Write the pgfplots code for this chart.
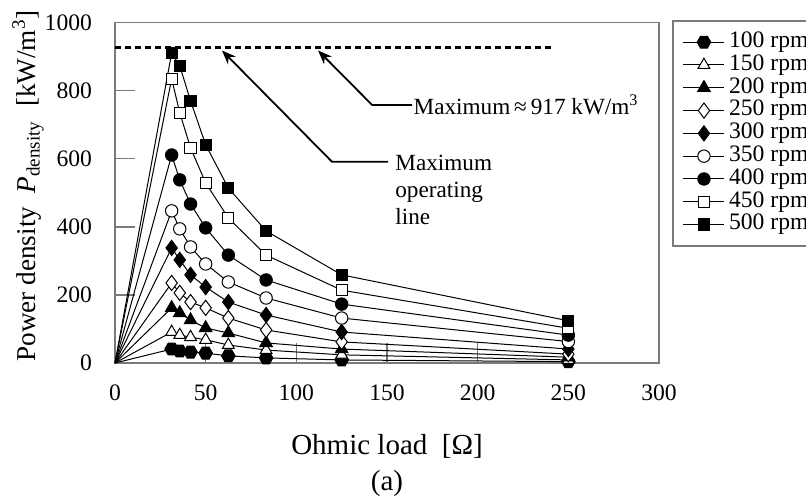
\documentclass[border=0pt]{standalone}
\usepackage{fontspec}
\setmainfont{Liberation Serif}
\usepackage{pgfplots}
\pgfplotsset{compat=1.18}
\usetikzlibrary{arrows.meta}
\pgfdeclareplotmark{hexagon}{%
  \pgfpathmoveto{\pgfqpointpolar{0}{\pgfplotmarksize}}%
  \pgfpathlineto{\pgfqpointpolar{60}{\pgfplotmarksize}}%
  \pgfpathlineto{\pgfqpointpolar{120}{\pgfplotmarksize}}%
  \pgfpathlineto{\pgfqpointpolar{180}{\pgfplotmarksize}}%
  \pgfpathlineto{\pgfqpointpolar{240}{\pgfplotmarksize}}%
  \pgfpathlineto{\pgfqpointpolar{300}{\pgfplotmarksize}}%
  \pgfpathclose
  \pgfusepathqfillstroke}
\definecolor{axgrey}{HTML}{7A7A7A}
\begin{document}
\begin{tikzpicture}
\begin{axis}[
  at={(0pt,0pt)}, anchor=south west,
  scale only axis, width=272pt, height=170.2pt,
  xmin=0, xmax=300, ymin=0, ymax=1000,
  xtick={0,50,...,300}, ytick={0,200,...,1000},
  tick pos=left, tick align=inside,
  major tick length=10pt,
  axis line style={axgrey, line width=0.9pt},
  every tick/.style={axgrey, line width=0.7pt},
  /pgf/number format/assume math mode=true,
  /pgf/number format/set thousands separator={},
  ticklabel style={font=\fontsize{11.8}{13}\selectfont},
  yticklabel style={xshift=-8pt},
  xticklabel style={yshift=-7.5pt},
  xlabel={Ohmic load\ \ [Ω]},
  ylabel={Power density\ \ \textit{P}\textsubscript{density}\ \ [kW/m\textsuperscript{3}]},
  xlabel style={font=\fontsize{14.5}{16}\selectfont, at={(axis description cs:0.5,-0.245)}, anchor=center},
  ylabel style={font=\fontsize{13.6}{16}\selectfont, at={(axis description cs:-0.16,0.52)}, anchor=center},
  legend style={at={(axis description cs:1.024,1.008)}, anchor=north west,
    draw=axgrey, line width=0.9pt, inner sep=5pt,
    font=\fontsize{11.8}{12}\selectfont,
    nodes={inner sep=0.6pt, text height=7.8pt, text depth=2.4pt},
    column sep=1.5pt,
    legend cell align=left},
  legend image code/.code={\draw[#1, mark=none] (0cm,0cm) -- (0.72cm,0cm);
    \draw[#1, only marks] plot coordinates {(0.36cm,0cm)};},
  every axis plot/.append style={black, line width=0.5pt},
  clip=false,
]
% segments from the origin
\addplot[forget plot, no markers] coordinates {(0,0) (31.25,41)};
\addplot[forget plot, no markers] coordinates {(0,0) (31.25,91)};
\addplot[forget plot, no markers] coordinates {(0,0) (31.25,162)};
\addplot[forget plot, no markers] coordinates {(0,0) (31.25,235)};
\addplot[forget plot, no markers] coordinates {(0,0) (31.25,338)};
\addplot[forget plot, no markers] coordinates {(0,0) (31.25,447)};
\addplot[forget plot, no markers] coordinates {(0,0) (31.25,611)};
\addplot[forget plot, no markers] coordinates {(0,0) (31.25,835)};
\addplot[forget plot, no markers] coordinates {(0,0) (31.25,911)};
% 100 rpm
\addplot[mark=hexagon, mark size=3.4pt, mark options={fill=black, solid}] coordinates {
(31.25,41) (35.71,35) (41.67,32) (50,29) (62.5,21) (83.33,15) (125,9) (250,4)};
\addlegendentry{100 rpm}
% 150 rpm
\addplot[mark=triangle*, mark size=3.4pt, mark options={fill=white, solid}] coordinates {
(31.25,91) (35.71,82) (41.67,76) (50,68) (62.5,53) (83.33,38) (125,24) (250,9)};
\addlegendentry{150 rpm}
% 200 rpm
\addplot[mark=triangle*, mark size=3.6pt, mark options={fill=black, solid}] coordinates {
(31.25,162) (35.71,147) (41.67,126) (50,103) (62.5,88) (83.33,59) (125,41) (250,17)};
\addlegendentry{200 rpm}
% 250 rpm
\addplot[mark=diamond*, mark size=3.8pt, mark options={fill=white, solid}] coordinates {
(31.25,235) (35.71,206) (41.67,179) (50,162) (62.5,132) (83.33,97) (125,62) (250,26)};
\addlegendentry{250 rpm}
% 300 rpm
\addplot[mark=diamond*, mark size=3.8pt, mark options={fill=black, solid}] coordinates {
(31.25,338) (35.71,303) (41.67,259) (50,223) (62.5,179) (83.33,141) (125,91) (250,41)};
\addlegendentry{300 rpm}
% 350 rpm
\addplot[mark=*, mark size=3.1pt, mark options={fill=white, solid}] coordinates {
(31.25,447) (35.71,394) (41.67,341) (50,291) (62.5,238) (83.33,191) (125,132) (250,63)};
\addlegendentry{350 rpm}
% 400 rpm
\addplot[mark=*, mark size=3.1pt, mark options={fill=black, solid}] coordinates {
(31.25,611) (35.71,538) (41.67,467) (50,397) (62.5,317) (83.33,244) (125,173) (250,82)};
\addlegendentry{400 rpm}
% 450 rpm
\addplot[mark=square*, mark size=2.8pt, mark options={fill=white, solid}] coordinates {
(31.25,835) (35.71,735) (41.67,632) (50,529) (62.5,426) (83.33,317) (125,214) (250,102)};
\addlegendentry{450 rpm}
% 500 rpm
\addplot[mark=square*, mark size=2.8pt, mark options={fill=black, solid}] coordinates {
(31.25,911) (35.71,873) (41.67,770) (50,641) (62.5,514) (83.33,388) (125,259) (250,124)};
\addlegendentry{500 rpm}
% maximum line
\draw[black, line width=1.1pt, dash pattern=on 3pt off 2pt] (axis cs:0,927) -- (axis cs:242,927);
% annotations
\draw[black, line width=0.9pt, -{Stealth[length=7pt,width=5.5pt]}]
  (axis cs:163.8,758) -- (axis cs:141.8,758) -- (axis cs:112,918);
\node[anchor=west, inner sep=0pt, font=\fontsize{11.6}{13}\selectfont] at (axis cs:164.5,758)
  {Maximum\,≈\,917 kW/m\textsuperscript{3}};
\draw[black, line width=0.9pt, -{Stealth[length=7pt,width=5.5pt]}]
  (axis cs:150.6,591) -- (axis cs:119.7,591) -- (axis cs:59,918);
\node[anchor=north west, inner sep=0pt, align=left, font=\fontsize{11.6}{13.6}\selectfont]
  at (axis cs:154.4,612) {Maximum\\operating\\line};
\node[anchor=center, font=\fontsize{14.5}{16}\selectfont] at (axis description cs:0.5,-0.353) {(a)};
\end{axis}
\pgfresetboundingbox
\useasboundingbox (-57.5pt,-67.5pt) rectangle (345.5pt,181.5pt);
\end{tikzpicture}
\end{document}
